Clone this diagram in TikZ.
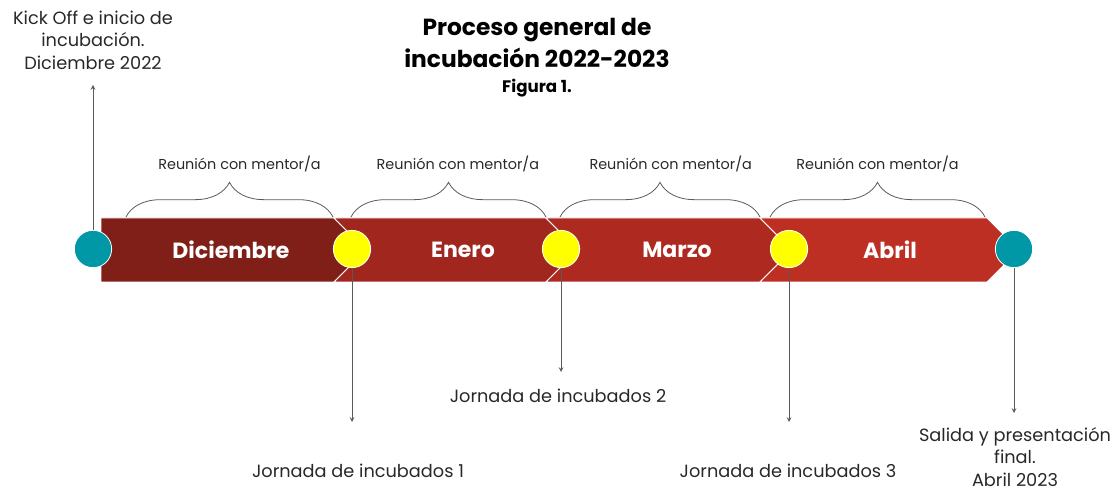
\documentclass[tikz,border=0pt]{standalone}
\usepackage{fontspec}
\setmainfont{Poppins}
\usetikzlibrary{arrows, positioning, decorations.pathreplacing}

\definecolor{dicred}{RGB}{127,31,23}
\definecolor{enered}{RGB}{160,38,30}
\definecolor{marred}{RGB}{174,42,32}
\definecolor{abrred}{RGB}{190,47,35}
\definecolor{dotteal}{RGB}{0,151,167}
\definecolor{dotyellow}{RGB}{255,255,0}
\definecolor{linegray}{RGB}{90,90,90}
\definecolor{textgray}{RGB}{40,40,40}

\begin{document}
\begin{tikzpicture}[x=0.75pt, y=-0.75pt]
% Styles
\tikzstyle{segment} = [draw=white, line width=0.6pt]
\tikzstyle{month} = [text=white, font=\bfseries\fontsize{16.5}{18}\selectfont]
\tikzstyle{milestone} = [circle, minimum size=28pt, inner sep=0pt, draw=white, line width=0.6pt]
\tikzstyle{note} = [text=textgray, align=center, font=\fontsize{13.3}{17}\selectfont]
\tikzstyle{mentor} = [text=textgray, font=\fontsize{10.8}{12}\selectfont]
\tikzstyle{mbrace} = [draw=linegray, line width=0.6pt, decorate, decoration={brace, amplitude=26pt}]
\tikzstyle{arrow} = [draw=linegray, line width=0.6pt, ->, >=stealth]

\useasboundingbox (0,0) rectangle (1117,491);

% Title
\node (title) [font=\bfseries\fontsize{17.5}{24}\selectfont, align=center] at (537,43) {Proceso general de\\incubación 2022-2023};
\node (figura) [font=\bfseries\fontsize{12.5}{14}\selectfont, below=1.5pt of title] {Figura 1.};

% Band
\path[segment, fill=dicred] (101,218) -- (334,218) -- (366,250) -- (334,282) -- (101,282) -- cycle;
\path[segment, fill=enered] (334,218) -- (546,218) -- (578,250) -- (546,282) -- (334,282) -- (366,250) -- cycle;
\path[segment, fill=marred] (546,218) -- (760,218) -- (792,250) -- (760,282) -- (546,282) -- (578,250) -- cycle;
\path[segment, fill=abrred] (760,218) -- (987,218) -- (1019,250) -- (987,282) -- (760,282) -- (792,250) -- cycle;

% Months
\node (diciembre) [month] at (231,250) {Diciembre};
\node (enero) [month] at (463,250) {Enero};
\node (marzo) [month] at (677,250) {Marzo};
\node (abril) [month] at (890,250) {Abril};

% Milestones
\node (kickoff) [milestone, fill=dotteal] at (93,249) {};
\node (jornada1) [milestone, fill=dotyellow] at (352,249) {};
\node (jornada2) [milestone, fill=dotyellow] at (561,249) {};
\node (jornada3) [milestone, fill=dotyellow] at (789,249) {};
\node (salida) [milestone, fill=dotteal] at (1014,249) {};

% Mentor braces
\draw[mbrace] (126,217) -- node (brace1) [mentor, above=30pt, xshift=7.5pt] {Reunión con mentor/a} (333,217);
\draw[mbrace] (351,217) -- node (brace2) [mentor, above=30.5pt, xshift=7pt] {Reunión con mentor/a} (546,217);
\draw[mbrace] (560,217) -- node (brace3) [mentor, above=30pt, xshift=8pt] {Reunión con mentor/a} (760,217);
\draw[mbrace] (770,217) -- node (brace4) [mentor, above=30pt] {Reunión con mentor/a} (985,217);

% Arrow ends
\coordinate (kickend) at (93,85);
\coordinate (jor1end) at (352,422);
\coordinate (jor2end) at (561,372);
\coordinate (jor3end) at (789,422);
\coordinate (salend) at (1014,413);

% Arrows
\draw[arrow] (kickoff) -- (kickend);
\draw[arrow] (jornada1) -- (jor1end);
\draw[arrow] (jornada2) -- (jor2end);
\draw[arrow] (jornada3) -- (jor3end);
\draw[arrow] (salida) -- (salend);

% Notes
\node (kicktxt) [note] at (93,40) {Kick Off e inicio de\\incubación.\\Diciembre 2022};
\node (jor1txt) [note] at (358,471) {Jornada de incubados 1};
\node (jor2txt) [note] at (558,396) {Jornada de incubados 2};
\node (jor3txt) [note] at (788,471) {Jornada de incubados 3};
\node (saltxt) [note] at (1015,457) {Salida y presentación\\final.\\Abril 2023};
\end{tikzpicture}
\end{document}
